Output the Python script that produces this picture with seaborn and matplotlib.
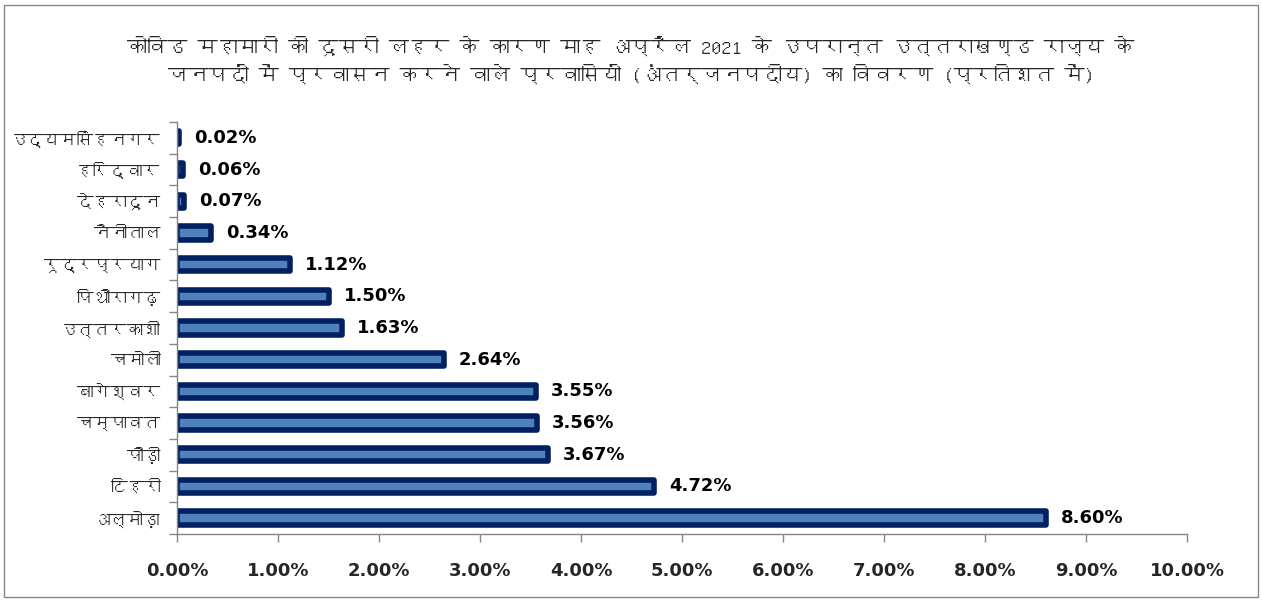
import matplotlib
matplotlib.use('Agg')
import matplotlib.pyplot as plt
from matplotlib import font_manager
from matplotlib.ft2font import FT2Font
from matplotlib.patches import Rectangle
import seaborn as sns

# Data (top to bottom)
districts = ['उद्यमसिंहनगर', 'हरिद्वार', 'देहरादून', 'नैनीताल', 'रूद्रप्रयाग', 'पिथौरागढ़',
             'उत्तरकाशी', 'चमोली', 'बागेश्वर', 'चम्पावत', 'पौड़ी', 'टिहरी', 'अल्मोड़ा']
percent = [0.02, 0.06, 0.07, 0.34, 1.12, 1.50, 1.63, 2.64, 3.55, 3.56, 3.67, 4.72, 8.60]
x_ticks = [0, 1, 2, 3, 4, 5, 6, 7, 8, 9, 10]

title = ('कोविड महामारी की दूसरी लहर के कारण माह अप्रैल 2021 के उपरान्त उत्तराखण्ड राज्य के\n'
         'जनपदों में प्रवासन करने वाले प्रवासियों (अंतर्जनपदीय) का विवरण (प्रतिशत में)')


# Find any installed font that has Devanagari glyphs
def find_devanagari_font():
    for f in font_manager.fontManager.ttflist:
        try:
            if 0x0915 in FT2Font(f.fname).get_charmap():
                return f.name
        except Exception:
            continue
    return None


sns.set_style('white')
hindi = find_devanagari_font()
families = [hindi, 'DejaVu Sans'] if hindi else ['DejaVu Sans']
plt.rcParams['font.family'] = families

navy = '#002060'
light = '#4F81BD'
axis_grey = '#868686'

fig = plt.figure(figsize=(12.62, 6.0), dpi=100)
ax = fig.add_axes([0.1403, 0.11, 0.8003, 0.6867])

# Bars: light fill with a thick navy edge
sns.barplot(x=percent, y=districts, orient='h', color=light, saturation=1,
            width=0.42, edgecolor=navy, linewidth=4.0, ax=ax)
for p in ax.patches:
    p.set_joinstyle('round')

# Data labels
for i, v in enumerate(percent):
    ax.annotate('{:.2f}%'.format(v), xy=(v, i), xytext=(15, 0), textcoords='offset pixels',
                ha='left', va='center', fontsize=13, fontweight='bold', color='black',
                family=['DejaVu Sans'])

ax.set_xlim(0, 10)
ax.set_ylim(len(districts) - 0.5, -0.5)
ax.set_xticks(x_ticks)
ax.set_xticklabels(['{:.2f}%'.format(t) for t in x_ticks], fontsize=13, fontweight='bold',
                   family=['DejaVu Sans'])
ax.tick_params(axis='x', which='major', direction='out', length=6, width=1, color=axis_grey,
               pad=14, bottom=True)

# Category labels, with tick marks between categories
ax.set_yticks(range(len(districts)))
ax.set_yticklabels(districts, fontsize=12)
ax.tick_params(axis='y', which='major', length=0, pad=12)
ax.set_yticks([i - 0.5 for i in range(len(districts) + 1)], minor=True)
ax.tick_params(axis='y', which='minor', direction='out', length=6, width=1, color=axis_grey,
               left=True)
ax.set_xlabel('')
ax.set_ylabel('')

for side in ['top', 'right']:
    ax.spines[side].set_visible(False)
for side in ['left', 'bottom']:
    ax.spines[side].set_color(axis_grey)
    ax.spines[side].set_linewidth(1)

fig.text(0.5, 0.9, title, ha='center', va='center', fontsize=14.5, linespacing=1.45)

# Outer chart border
fig.patches.append(Rectangle((0.003, 0.005), 0.994, 0.987, transform=fig.transFigure,
                             fill=False, edgecolor=axis_grey, linewidth=1))

fig.savefig('out.png', dpi=100)
